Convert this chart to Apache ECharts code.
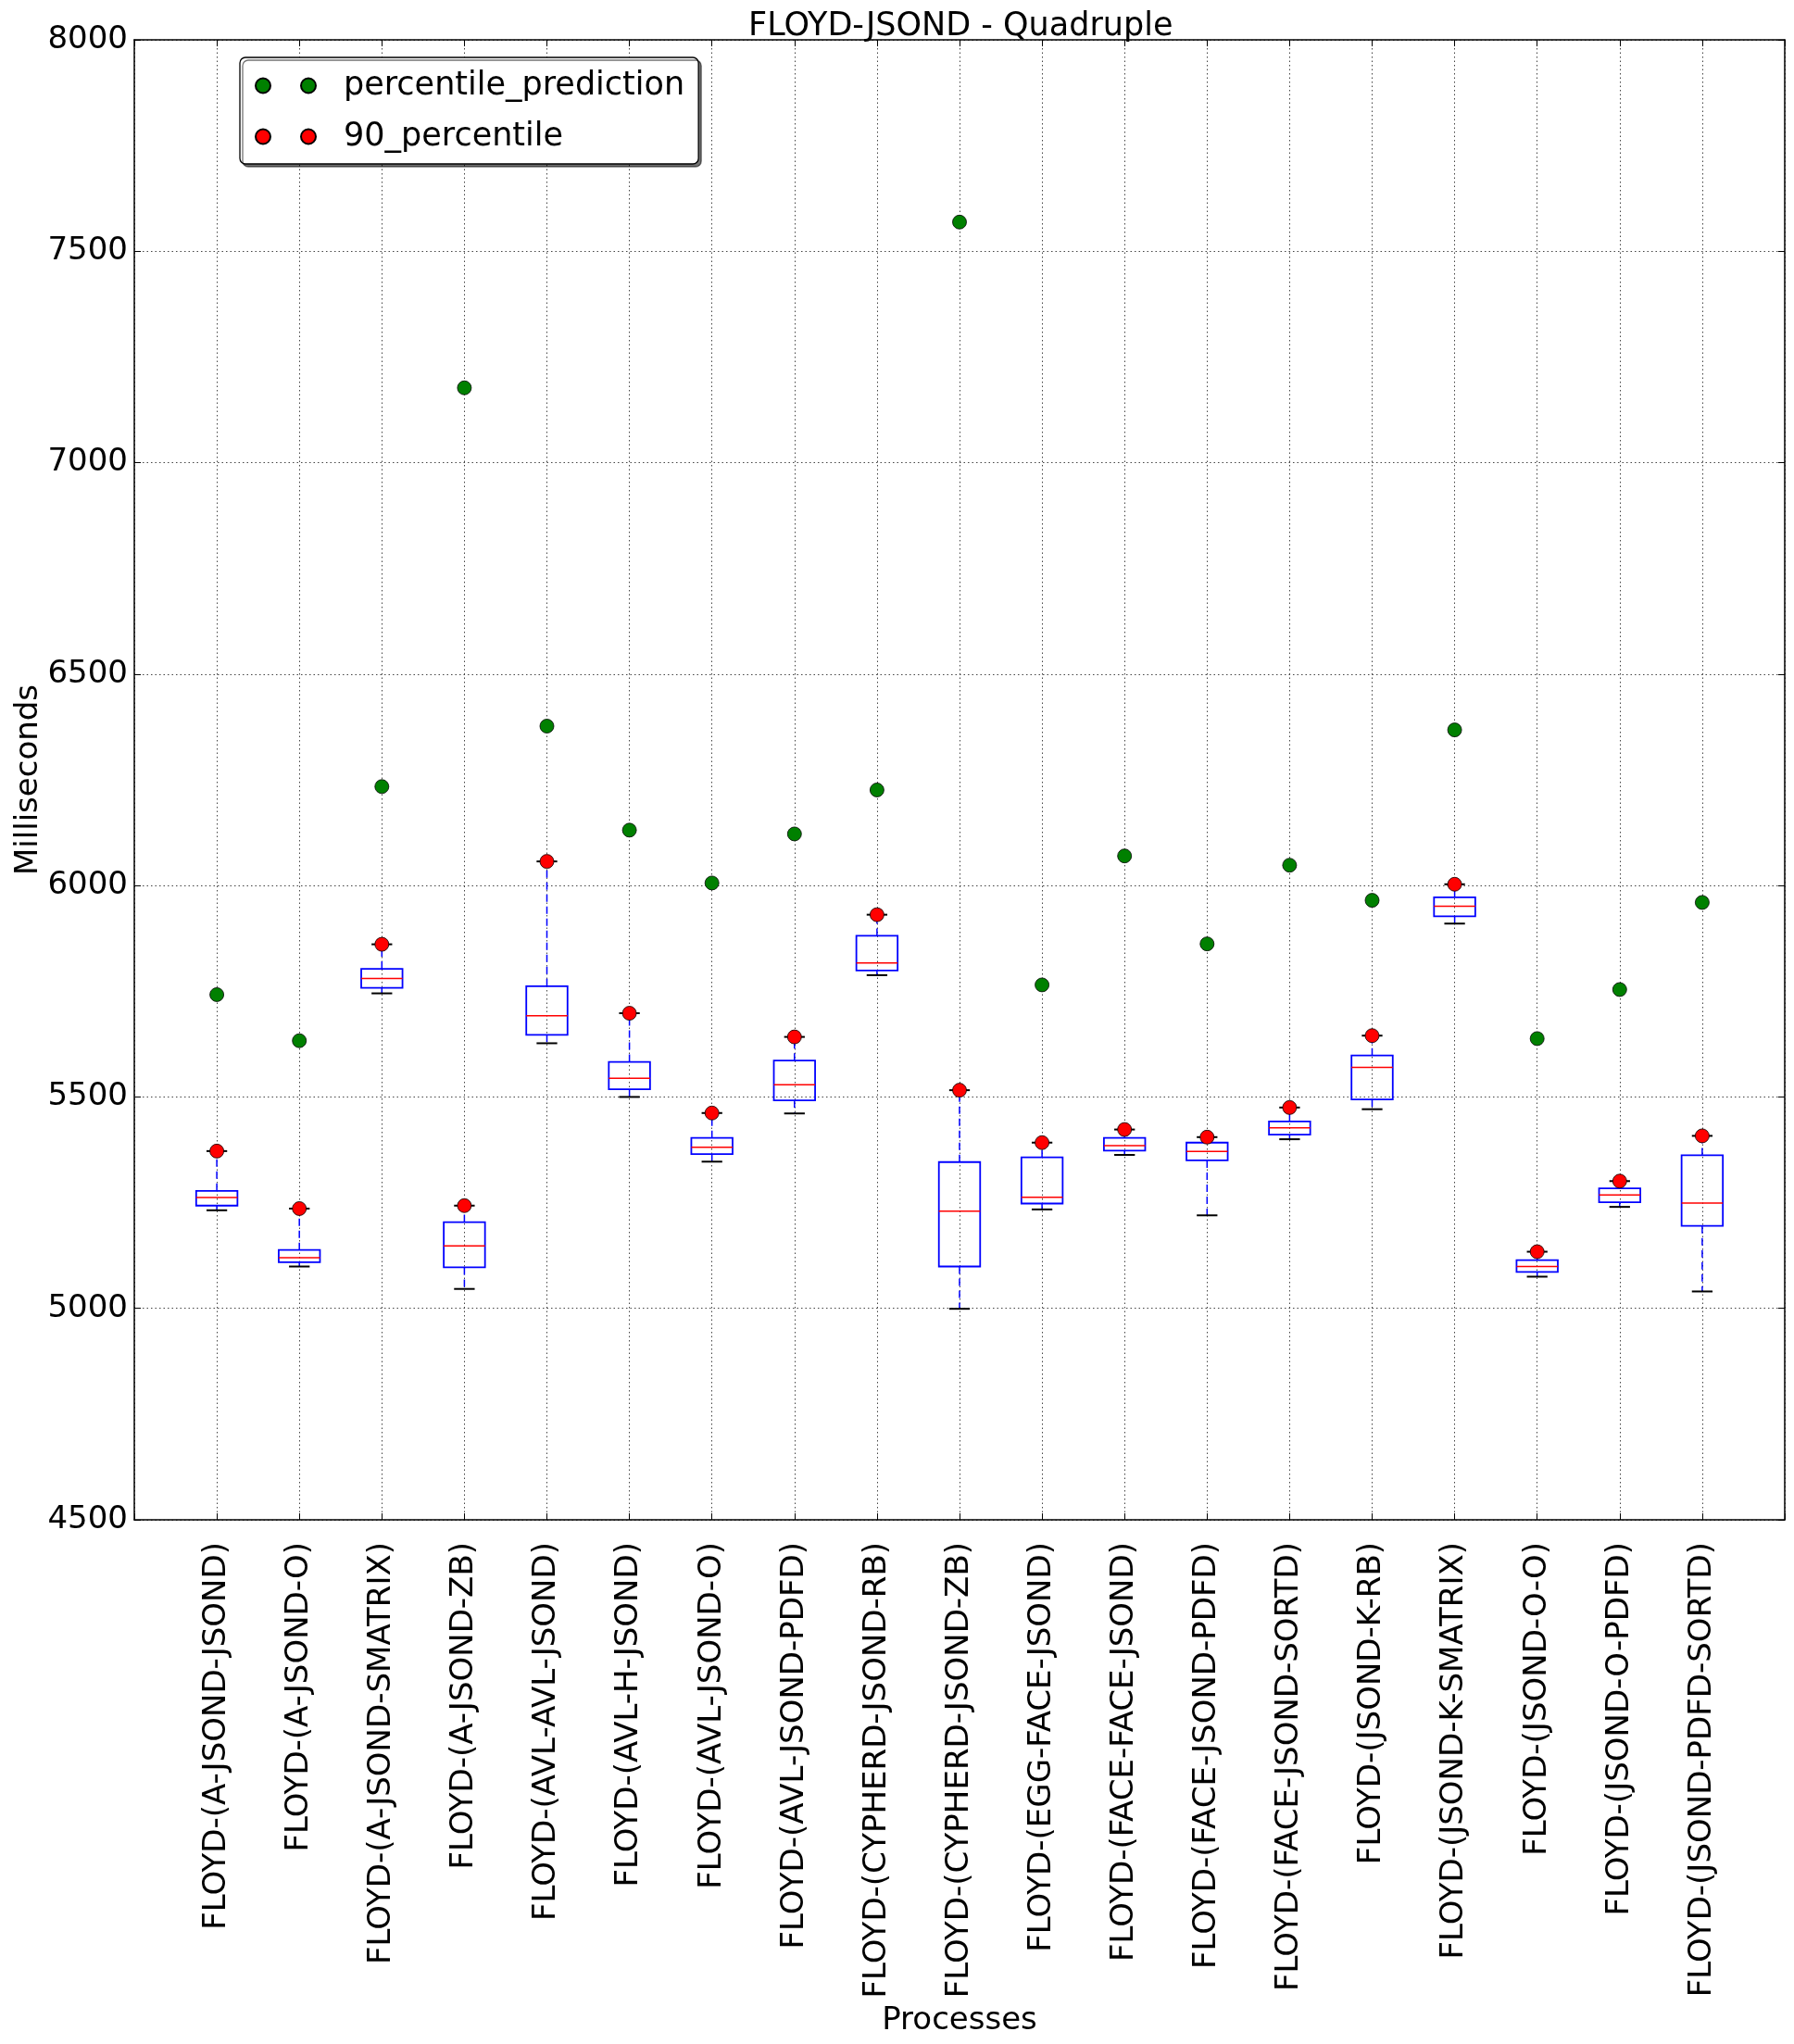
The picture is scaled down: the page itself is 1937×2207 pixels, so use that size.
<!DOCTYPE html>
<html>
<head>
<meta charset="utf-8">
<script src="https://cdn.jsdelivr.net/npm/echarts@6/dist/echarts.min.js"></script>
<style>
html,body{margin:0;padding:0;background:#fff;}
#chart{width:1937px;height:2207px;}
</style>
</head>
<body>
<div id="chart"></div>
<script>
const categories = [
  "FLOYD-(A-JSOND-JSOND)", "FLOYD-(A-JSOND-O)", "FLOYD-(A-JSOND-SMATRIX)", "FLOYD-(A-JSOND-ZB)",
  "FLOYD-(AVL-AVL-JSOND)", "FLOYD-(AVL-H-JSOND)", "FLOYD-(AVL-JSOND-O)", "FLOYD-(AVL-JSOND-PDFD)",
  "FLOYD-(CYPHERD-JSOND-RB)", "FLOYD-(CYPHERD-JSOND-ZB)", "FLOYD-(EGG-FACE-JSOND)", "FLOYD-(FACE-FACE-JSOND)",
  "FLOYD-(FACE-JSOND-PDFD)", "FLOYD-(FACE-JSOND-SORTD)", "FLOYD-(JSOND-K-RB)", "FLOYD-(JSOND-K-SMATRIX)",
  "FLOYD-(JSOND-O-O)", "FLOYD-(JSOND-O-PDFD)", "FLOYD-(JSOND-PDFD-SORTD)"
];
const whiskerLow  = [5232, 5099, 5745, 5046, 5627, 5500, 5347, 5461, 5788, 4999, 5234, 5363, 5220, 5400, 5471, 5910, 5075, 5240, 5040];
const quartile1   = [5243, 5109, 5758, 5097, 5647, 5518, 5365, 5492, 5799, 5099, 5248, 5373, 5350, 5411, 5494, 5927, 5086, 5251, 5195];
const medians     = [5262, 5120, 5780, 5148, 5692, 5544, 5381, 5529, 5817, 5230, 5263, 5385, 5371, 5427, 5570, 5951, 5099, 5268, 5249];
const quartile3   = [5278, 5138, 5803, 5204, 5762, 5583, 5403, 5586, 5881, 5346, 5357, 5403, 5392, 5442, 5598, 5972, 5114, 5284, 5362];
const whiskerHigh = [5372, 5236, 5861, 5243, 6057, 5698, 5462, 5642, 5931, 5516, 5392, 5423, 5405, 5475, 5645, 6003, 5134, 5301, 5408];
const percentile90 = [5372, 5236, 5861, 5243, 6057, 5698, 5462, 5642, 5931, 5516, 5392, 5423, 5405, 5475, 5645, 6003, 5134, 5301, 5408];
const percentilePrediction = [5742, 5633, 6234, 7177, 6377, 6131, 6006, 6122, 6226, 7569, 5765, 6070, 5862, 6048, 5965, 6368, 5638, 5754, 5960];
const yTicks = [4500, 5000, 5500, 6000, 6500, 7000, 7500, 8000];

const FONT = 'DejaVu Sans';
const boxData = categories.map((c, i) => [i + 1, whiskerLow[i], quartile1[i], medians[i], quartile3[i], whiskerHigh[i]]);
const p90Data = categories.map((c, i) => [i + 1, percentile90[i]]);
const predData = categories.map((c, i) => [i + 1, percentilePrediction[i]]);

const gridLine = {show: true, lineStyle: {color: '#444', width: 1, type: [1.5, 3]}};
const frameLine = {show: true, onZero: false, lineStyle: {color: '#000', width: 1.5}};
const twoDots = 'path://M0,8a8,8 0 1,0 16,0a8,8 0 1,0 -16,0Z M49,8a8,8 0 1,0 16,0a8,8 0 1,0 -16,0Z';

const chart = echarts.init(document.getElementById('chart'), null, {renderer: 'canvas'});
chart.setOption({
  backgroundColor: '#fff',
  animation: false,
  title: {
    text: 'FLOYD-JSOND - Quadruple',
    left: 803, top: 6,
    textStyle: {fontFamily: FONT, fontSize: 35, fontWeight: 'normal', color: '#000'}
  },
  legend: {
    orient: 'vertical',
    left: 259, top: 62,
    padding: [13, 15, 12, 16],
    itemGap: 20,
    itemWidth: 65, itemHeight: 16,
    icon: twoDots,
    backgroundColor: '#fff',
    borderColor: '#000', borderWidth: 1.3, borderRadius: 6,
    shadowColor: 'rgba(0,0,0,0.55)', shadowBlur: 0, shadowOffsetX: 3, shadowOffsetY: 3,
    textStyle: {fontFamily: FONT, fontSize: 35, color: '#000', padding: [0, 0, 0, 25]},
    data: ['percentile_prediction', '90_percentile']
  },
  grid: {left: 145, right: 10, top: 43, bottom: 566, containLabel: false, outerBoundsMode: 'none'},
  xAxis: [{
    type: 'value', min: 0, max: 20, interval: 1,
    name: 'Processes', nameLocation: 'middle', nameGap: 518,
    nameTextStyle: {fontFamily: FONT, fontSize: 34, color: '#000'},
    axisLine: frameLine,
    axisTick: {show: true, inside: true, length: 7, lineStyle: {color: '#000', width: 1}},
    axisLabel: {
      rotate: 90, margin: 24, fontFamily: FONT, fontSize: 34, color: '#000',
      formatter: v => categories[v - 1] || ''
    },
    splitLine: gridLine
  }, {
    type: 'value', min: 0, max: 20, interval: 1, position: 'top',
    axisLine: frameLine,
    axisTick: {show: true, inside: true, length: 7, lineStyle: {color: '#000', width: 1}},
    axisLabel: {show: false}, splitLine: {show: false}
  }],
  yAxis: [{
    type: 'value', min: yTicks[0], max: yTicks[yTicks.length - 1], interval: 500,
    name: 'Milliseconds', nameLocation: 'middle', nameGap: 97, nameMoveOverlap: false,
    nameTextStyle: {fontFamily: FONT, fontSize: 34, color: '#000'},
    axisLine: frameLine,
    axisTick: {show: true, inside: true, length: 7, lineStyle: {color: '#000', width: 1}},
    axisLabel: {margin: 7, fontFamily: FONT, fontSize: 34, color: '#000', formatter: v => String(v)},
    splitLine: gridLine
  }, {
    type: 'value', min: yTicks[0], max: yTicks[yTicks.length - 1], interval: 500, position: 'right',
    axisLine: frameLine,
    axisTick: {show: true, inside: true, length: 7, lineStyle: {color: '#000', width: 1}},
    axisLabel: {show: false}, splitLine: {show: false}
  }],
  series: [{
    type: 'custom',
    name: 'box',
    data: boxData,
    encode: {x: 0, y: [1, 2, 3, 4, 5]},
    z: 2,
    renderItem: function (params, api) {
      const x = api.value(0);
      const pLo = api.coord([x, api.value(1)]);
      const pQ1 = api.coord([x, api.value(2)]);
      const pMd = api.coord([x, api.value(3)]);
      const pQ3 = api.coord([x, api.value(4)]);
      const pHi = api.coord([x, api.value(5)]);
      const hw = api.size([0.25, 0])[0];
      const cw = api.size([0.125, 0])[0];
      const cx = pQ1[0];
      const blue = '#0000ff';
      return {
        type: 'group',
        children: [
          {type: 'line', shape: {x1: cx, y1: pQ3[1], x2: cx, y2: pHi[1]}, style: {stroke: blue, lineWidth: 1.5, lineDash: [8, 5]}},
          {type: 'line', shape: {x1: cx, y1: pQ1[1], x2: cx, y2: pLo[1]}, style: {stroke: blue, lineWidth: 1.5, lineDash: [8, 5]}},
          {type: 'line', shape: {x1: cx - cw, y1: pHi[1], x2: cx + cw, y2: pHi[1]}, style: {stroke: '#000', lineWidth: 2}},
          {type: 'line', shape: {x1: cx - cw, y1: pLo[1], x2: cx + cw, y2: pLo[1]}, style: {stroke: '#000', lineWidth: 2}},
          {type: 'rect', shape: {x: cx - hw, y: pQ3[1], width: 2 * hw, height: pQ1[1] - pQ3[1]}, style: {fill: 'rgba(0,0,0,0)', stroke: blue, lineWidth: 1.8}},
          {type: 'line', shape: {x1: cx - hw, y1: pMd[1], x2: cx + hw, y2: pMd[1]}, style: {stroke: '#ff0000', lineWidth: 1.5}}
        ]
      };
    }
  }, {
    type: 'scatter',
    name: 'percentile_prediction',
    data: predData,
    symbol: 'circle', symbolSize: 15, z: 3,
    itemStyle: {color: '#008000', opacity: 1, borderColor: '#000', borderWidth: 0.8}
  }, {
    type: 'scatter',
    name: '90_percentile',
    data: p90Data,
    symbol: 'circle', symbolSize: 15, z: 3,
    itemStyle: {color: '#ff0000', opacity: 1, borderColor: '#000', borderWidth: 0.8}
  }]
});
</script>
</body>
</html>
